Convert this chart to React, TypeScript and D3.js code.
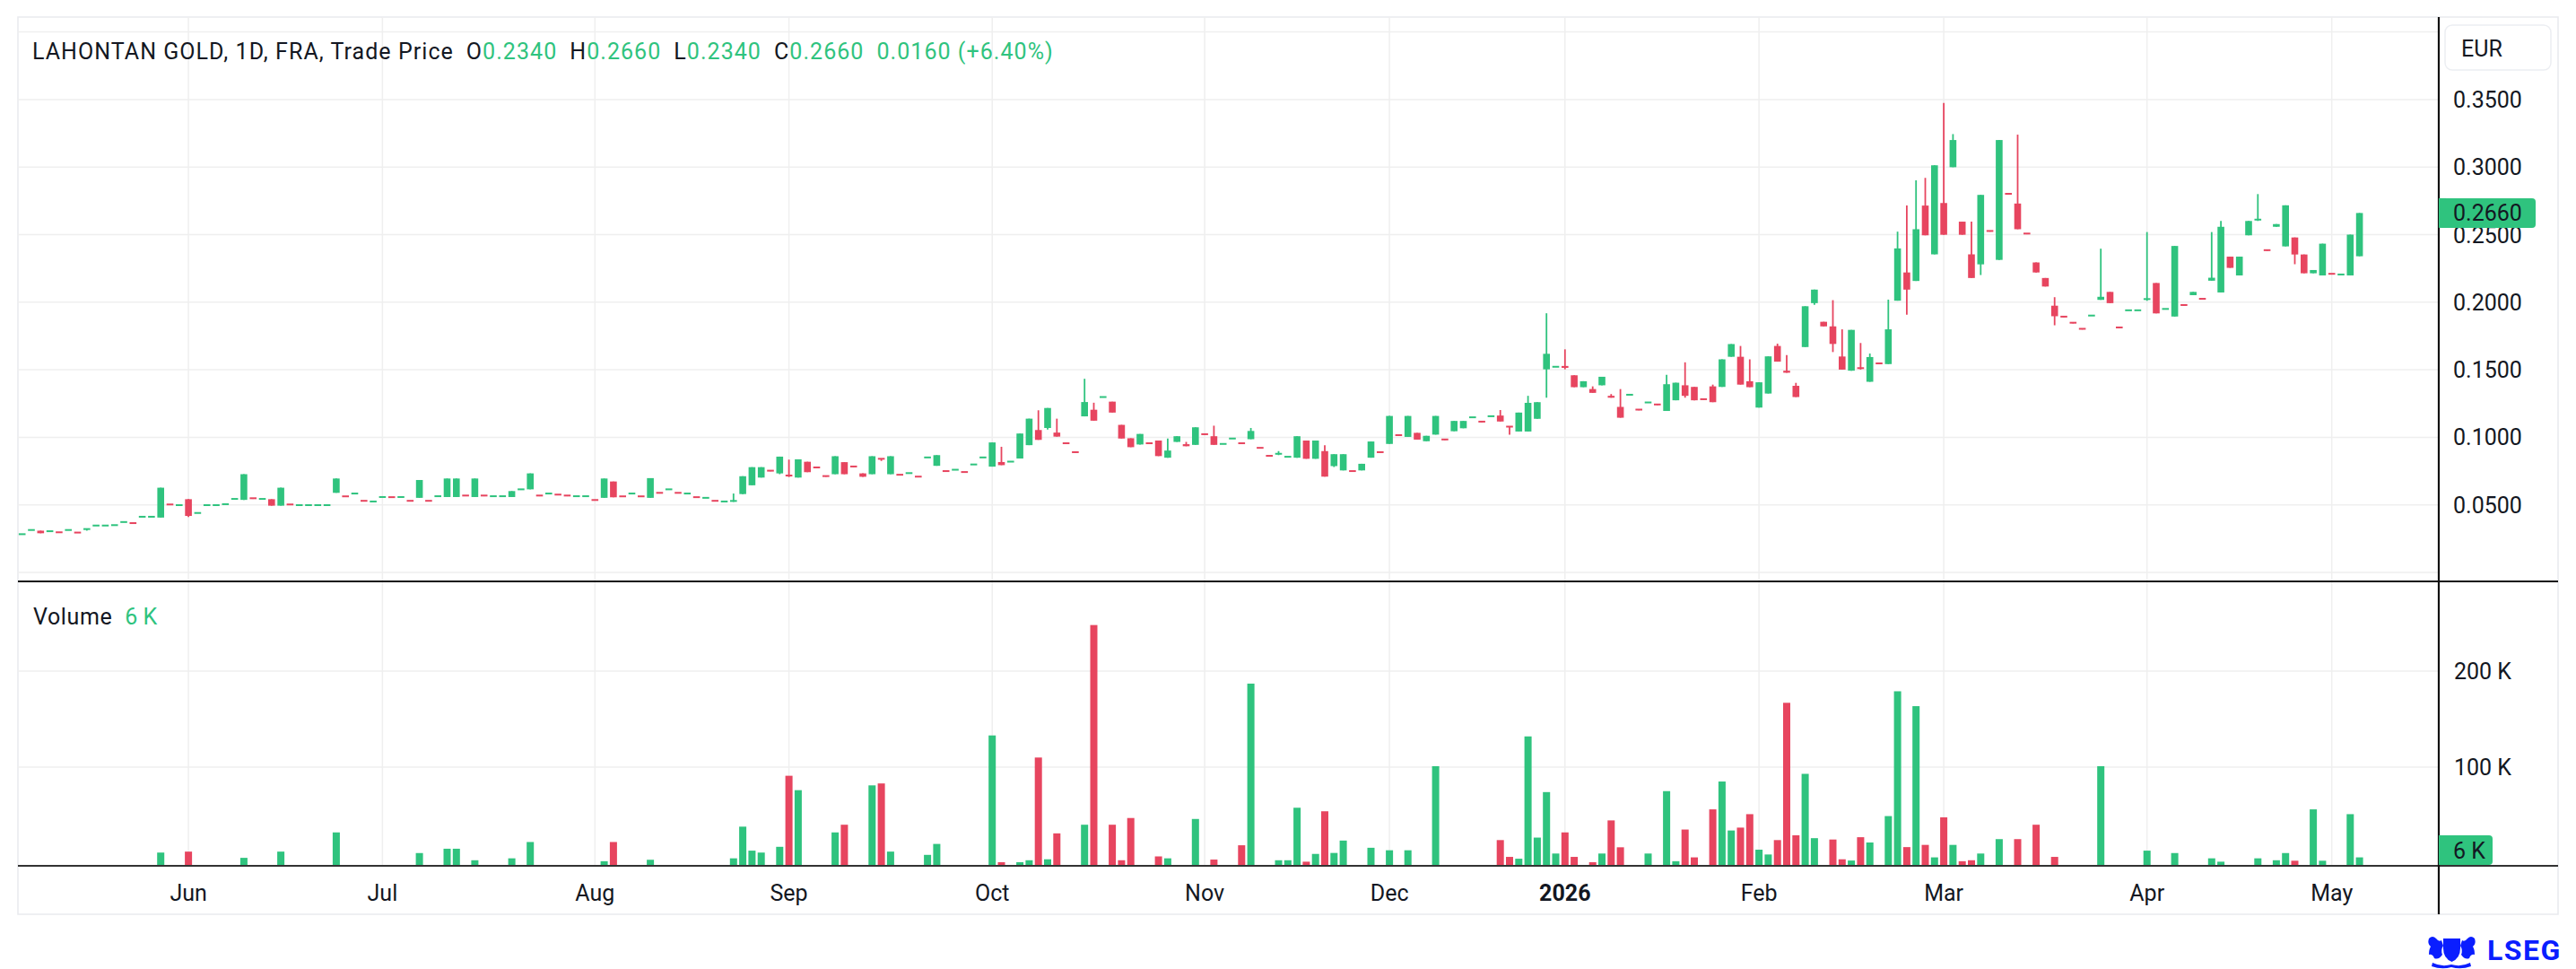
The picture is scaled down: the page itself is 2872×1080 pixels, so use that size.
import * as d3 from 'd3';
import React from 'react';

const W = 2872;
const H = 1080;
const UP = '#2fc37e';
const DOWN = '#e7455f';
const FONT = 'Roboto, "Noto Sans", sans-serif';
const TEXT = '#131722';
const GRID = '#efefef';

// one row per trading day: [open, close, high?, low?] (high/low default to the body)
const candles: number[][] = [
  [0.0283, 0.0283], [0.0314, 0.0314], [0.0309, 0.029], [0.0305, 0.0305], [0.0297, 0.0292], [0.0314, 0.0314],
  [0.0295, 0.029], [0.0309, 0.0321], [0.0347, 0.0347], [0.0347, 0.0347], [0.035, 0.035], [0.0373, 0.0373],
  [0.0365, 0.036], [0.0412, 0.0412], [0.0412, 0.0412], [0.0406, 0.0627], [0.0503, 0.0498], [0.0498, 0.0498],
  [0.0542, 0.0418, 0.0542, 0.041], [0.044, 0.044], [0.0498, 0.0498], [0.0498, 0.0498], [0.0505, 0.0505],
  [0.0544, 0.0544], [0.0537, 0.0727], [0.0549, 0.0544], [0.0544, 0.0544], [0.0542, 0.0494], [0.0494, 0.0627],
  [0.0503, 0.0498], [0.0498, 0.0498], [0.0498, 0.0498], [0.0498, 0.0498], [0.0498, 0.0498], [0.0589, 0.0695],
  [0.0563, 0.0558], [0.0584, 0.0584], [0.053, 0.0525], [0.0525, 0.0525], [0.0558, 0.0558], [0.0557, 0.0552],
  [0.0558, 0.0558], [0.053, 0.0525], [0.0552, 0.0684], [0.053, 0.0525], [0.0564, 0.0564], [0.0558, 0.0695],
  [0.0558, 0.0695], [0.0569, 0.0564], [0.0558, 0.0695], [0.0569, 0.0564], [0.0564, 0.0564], [0.0564, 0.0564],
  [0.0558, 0.0602], [0.0615, 0.0615], [0.0615, 0.0733], [0.0569, 0.0564], [0.0584, 0.0584], [0.0576, 0.0571],
  [0.0569, 0.0564], [0.0564, 0.0564], [0.0564, 0.0564], [0.0536, 0.0531], [0.0552, 0.0695], [0.0673, 0.0556],
  [0.0563, 0.0558], [0.0584, 0.0584], [0.0563, 0.0558], [0.0552, 0.0698], [0.0589, 0.0584], [0.0615, 0.0615],
  [0.0589, 0.0584], [0.0584, 0.0584], [0.0557, 0.0552], [0.0552, 0.0552], [0.053, 0.0525], [0.0525, 0.0525],
  [0.0522, 0.0529, 0.0584], [0.058, 0.0712], [0.0645, 0.0779], [0.0702, 0.0779], [0.0753, 0.0748],
  [0.0733, 0.0857, 0.0857, 0.0727], [0.0717, 0.0706, 0.0835], [0.0702, 0.0837], [0.0819, 0.0742],
  [0.0777, 0.0772], [0.0713, 0.0708], [0.0727, 0.086], [0.0816, 0.0727], [0.0784, 0.0779], [0.0733, 0.0708],
  [0.0727, 0.086], [0.0841, 0.0832, 0.0841, 0.0825], [0.0727, 0.086], [0.0723, 0.0718], [0.0735, 0.0735],
  [0.0709, 0.0704], [0.0851, 0.0851], [0.0789, 0.0868], [0.075, 0.0745], [0.076, 0.076], [0.0743, 0.0738],
  [0.0799, 0.0799], [0.0851, 0.0851], [0.0783, 0.0962], [0.0817, 0.0794, 0.093], [0.082, 0.082],
  [0.0843, 0.1028], [0.0942, 0.1138], [0.1054, 0.0981, 0.12], [0.1069, 0.1217, 0.1217, 0.1057],
  [0.1035, 0.1005, 0.1138], [0.0956, 0.0951], [0.089, 0.0885], [0.1155, 0.1261, 0.1433], [0.1204, 0.1123, 0.1256],
  [0.1298, 0.1298], [0.1264, 0.1183], [0.1092, 0.0991], [0.0993, 0.0927], [0.0947, 0.1025], [0.0956, 0.0951],
  [0.0976, 0.0861], [0.0849, 0.0902, 0.0991], [0.0966, 0.1008], [0.0949, 0.0934, 0.0966], [0.0944, 0.1074],
  [0.1023, 0.1018], [0.1008, 0.0944, 0.1086], [0.0951, 0.0951], [0.0991, 0.0991], [0.0956, 0.0951],
  [0.0986, 0.1047, 0.1069], [0.0922, 0.0917], [0.0863, 0.0858], [0.0868, 0.0878, 0.0898], [0.0856, 0.0856],
  [0.0849, 0.1008], [0.0976, 0.0841], [0.0841, 0.0976], [0.0898, 0.0709, 0.0942], [0.0787, 0.0875, 0.0875, 0.078],
  [0.0755, 0.0875], [0.075, 0.0745], [0.0755, 0.0804], [0.0849, 0.0969], [0.089, 0.0885], [0.0951, 0.1158],
  [0.1016, 0.1011], [0.1003, 0.1158], [0.1033, 0.0983], [0.0971, 0.1011], [0.102, 0.1158], [0.0984, 0.0979],
  [0.1045, 0.1121], [0.1067, 0.1121], [0.1148, 0.1148], [0.1116, 0.1111], [0.1156, 0.1156],
  [0.1161, 0.1117, 0.1202], [0.1079, 0.1068, 0.1079, 0.1019], [0.1043, 0.1183], [0.1043, 0.1255, 0.1307],
  [0.1137, 0.126], [0.1503, 0.1618, 0.1918, 0.1293], [0.1522, 0.1522], [0.1528, 0.1514, 0.1651, 0.1503],
  [0.1459, 0.1371], [0.1371, 0.1415], [0.1357, 0.1329, 0.1377], [0.1385, 0.1448], [0.1307, 0.1293, 0.132],
  [0.1225, 0.1145, 0.1357], [0.1315, 0.1315], [0.1205, 0.12], [0.1258, 0.1258], [0.1243, 0.1238],
  [0.1195, 0.1393, 0.1462], [0.1274, 0.1404], [0.1385, 0.1307, 0.1555, 0.1293], [0.1373, 0.1274],
  [0.1282, 0.1277], [0.1377, 0.126, 0.139], [0.1373, 0.1577], [0.1596, 0.169], [0.1596, 0.139, 0.1676],
  [0.1415, 0.1371, 0.1577], [0.122, 0.1407], [0.1324, 0.1599], [0.1676, 0.156, 0.1693], [0.1493, 0.1478, 0.1609],
  [0.1381, 0.1298, 0.1403], [0.1668, 0.197], [0.1993, 0.2093, 0.2093, 0.198], [0.1855, 0.1821],
  [0.1821, 0.1691, 0.2015, 0.1631], [0.1598, 0.1501, 0.1799], [0.1493, 0.1795], [0.1512, 0.1501, 0.1698],
  [0.1411, 0.1594, 0.162], [0.1547, 0.1542], [0.1542, 0.1799, 0.2019], [0.2011, 0.2398, 0.2522],
  [0.222, 0.2093, 0.2715, 0.1907], [0.2157, 0.254, 0.2902], [0.2715, 0.2495, 0.292], [0.2354, 0.3013],
  [0.2734, 0.2499, 0.3475], [0.2999, 0.32, 0.3244], [0.2596, 0.2499], [0.2354, 0.2179, 0.2596],
  [0.228, 0.2794, 0.2794, 0.2201], [0.2527, 0.2522], [0.2313, 0.32], [0.2802, 0.2797], [0.273, 0.254, 0.324],
  [0.2508, 0.2503], [0.2294, 0.222], [0.2179, 0.2116], [0.1974, 0.1896, 0.2037, 0.1829], [0.1893, 0.1888],
  [0.1848, 0.1843], [0.1803, 0.1798], [0.1901, 0.1901], [0.2017, 0.204, 0.2396], [0.2076, 0.1993],
  [0.1813, 0.1808], [0.194, 0.194], [0.194, 0.194], [0.201, 0.2023, 0.2519], [0.2142, 0.1917], [0.195, 0.195],
  [0.1894, 0.2416], [0.1979, 0.1974], [0.2052, 0.2076], [0.2025, 0.202], [0.2159, 0.2181, 0.2519],
  [0.2072, 0.2558, 0.2601], [0.2337, 0.2254], [0.2198, 0.2337], [0.2495, 0.2601], [0.2601, 0.2611, 0.28],
  [0.2385, 0.238], [0.2558, 0.2578], [0.2413, 0.2717], [0.2479, 0.2353, 0.2479, 0.2281], [0.2353, 0.2214],
  [0.2214, 0.2238], [0.2198, 0.2433], [0.221, 0.2205], [0.2205, 0.2205], [0.2198, 0.25], [0.234, 0.266],
];

// daily volume in thousands
const volumes: number[] = [
  0, 0, 0, 0, 0, 0, 0, 0, 0, 0,
  0, 0, 0, 0, 0, 11, 0, 0, 12, 0,
  0, 0, 0, 0, 5.5, 0, 0, 0, 12, 0,
  0, 0, 0, 0, 32, 0, 0, 0, 0, 0,
  0, 0, 0, 10.5, 0, 0, 15, 15, 0, 3,
  0, 0, 0, 5, 0, 22, 0, 0, 0, 0,
  0, 0, 0, 2, 22, 0, 0, 0, 3.5, 0,
  0, 0, 0, 0, 0, 0, 0, 5, 38, 13,
  11, 0, 17, 91, 76, 0, 0, 0, 32, 40,
  0, 0, 81, 83, 12, 0, 0, 0, 8.6, 20,
  0, 0, 0, 0, 0, 133, 1, 0, 1, 3,
  110, 4, 31, 0, 0, 40, 248, 0, 40, 3,
  47, 0, 0, 7, 5, 0, 0, 46, 0, 3.7,
  0, 0, 18.6, 187, 0, 0, 3, 3, 57.7, 1.5,
  9.6, 54, 10.6, 23.5, 0, 0, 16, 0, 13.4, 0,
  13.4, 0, 0, 101, 0, 0, 0, 0, 0, 0,
  24, 6.5, 4.6, 132, 26.6, 74, 10, 32, 6.5, 0,
  1, 10, 44.5, 16.5, 0, 0, 10, 0, 75, 2,
  35, 6, 0, 56, 85, 34, 37, 51, 14, 9,
  24, 167, 29, 93, 26, 0, 24.6, 4, 2.7, 27,
  21.5, 0, 49, 179, 16.7, 163.5, 19, 6, 47.7, 19,
  2, 3, 10, 0, 25, 0, 25, 0, 40, 0,
  6.5, 0, 0, 0, 0, 101, 0, 0, 0, 0,
  13, 0, 0, 10.5, 0, 0, 0, 5, 1.5, 0,
  0, 0, 5, 0, 3, 10.5, 2.5, 0, 56, 2.5,
  0, 0, 51, 6,
];

const monthLabels = ['Jun', 'Jul', 'Aug', 'Sep', 'Oct', 'Nov', 'Dec', '2026', 'Feb', 'Mar', 'Apr', 'May'];
const monthStarts = [18, 39, 62, 83, 105, 128, 148, 167, 188, 208, 230, 250];
const priceTicks = [0.05, 0.1, 0.15, 0.2, 0.25, 0.3, 0.35];
const priceGrid = [0, 0.05, 0.1, 0.15, 0.2, 0.25, 0.3, 0.35, 0.4];
const volumeTicks = [100, 200];

const header = { name: 'LAHONTAN GOLD, 1D, FRA, Trade Price', o: '0.2340', h: '0.2660', l: '0.2340', c: '0.2660', chg: '0.0160 (+6.40%)' };

export default function App() {
  const left = 20;
  const right = 2719;
  const x = d3.scaleLinear().domain([0, candles.length - 1]).range([24.7, 2630.6]);
  const y = d3.scaleLinear().domain([0, 0.4]).range([638, 35.6]);
  const yv = d3.scaleLinear().domain([0, 200]).range([962, 748]);
  const baseY = 964;
  const bodyW = 7.6;
  const volW = 8;

  const bars = candles.map(([o, c, h, l], i) => ({
    i,
    o,
    c,
    h: h ?? Math.max(o, c),
    l: l ?? Math.min(o, c),
    up: c >= o,
  }));
  const last = bars[bars.length - 1];

  return (
    <svg
      width={W}
      height={H}
      style={{ position: 'fixed', left: 0, top: 0, background: '#fff' }}
      fontFamily={FONT}
    >
      <rect x={0} y={0} width={W} height={H} fill="#fff" />
      <rect x={left} y={19} width={2852 - left} height={1000} fill="none" stroke="#e9eaee" strokeWidth={1.5} />

      {/* grid */}
      {priceGrid.map((p) => (
        <line key={'pg' + p} x1={left} x2={right} y1={y(p)} y2={y(p)} stroke={GRID} strokeWidth={1.5} />
      ))}
      {volumeTicks.map((v) => (
        <line key={'vg' + v} x1={left} x2={right} y1={yv(v)} y2={yv(v)} stroke={GRID} strokeWidth={1.5} />
      ))}
      {monthStarts.map((m) => (
        <line key={'mg' + m} x1={x(m)} x2={x(m)} y1={19} y2={baseY} stroke={GRID} strokeWidth={1.5} />
      ))}

      {/* candles */}
      {bars.map((b) => {
        const col = b.up ? UP : DOWN;
        const top = y(Math.max(b.o, b.c));
        const hgt = Math.max(2, Math.abs(y(b.o) - y(b.c)));
        return (
          <g key={'c' + b.i}>
            {b.h - b.l > 0.0005 && (
              <line x1={x(b.i)} x2={x(b.i)} y1={y(b.h)} y2={y(b.l)} stroke={col} strokeWidth={1.8} />
            )}
            <rect x={x(b.i) - bodyW / 2} y={top - (hgt === 2 ? 1 : 0)} width={bodyW} height={hgt} fill={col} />
          </g>
        );
      })}

      {/* volume */}
      {bars.map((b) =>
        volumes[b.i] > 0 ? (
          <rect
            key={'v' + b.i}
            x={x(b.i) - volW / 2}
            y={Math.min(yv(volumes[b.i]), baseY - 2)}
            width={volW}
            height={baseY - Math.min(yv(volumes[b.i]), baseY - 2)}
            fill={b.up ? UP : DOWN}
          />
        ) : null
      )}

      {/* pane separators and axes */}
      <line x1={left} x2={2852} y1={648} y2={648} stroke="#111" strokeWidth={2.2} />
      <line x1={left} x2={2852} y1={965} y2={965} stroke="#333" strokeWidth={2} />
      <line x1={right} x2={right} y1={19} y2={1019} stroke="#111" strokeWidth={2.2} />

      {/* header */}
      <text x={36} y={66} fontSize={25} fill={TEXT} letterSpacing={1.05}>
        <tspan>{header.name}</tspan>
        <tspan dx={14}>O</tspan>
        <tspan fill={UP}>{header.o}</tspan>
        <tspan dx={14}>H</tspan>
        <tspan fill={UP}>{header.h}</tspan>
        <tspan dx={14}>L</tspan>
        <tspan fill={UP}>{header.l}</tspan>
        <tspan dx={14}>C</tspan>
        <tspan fill={UP}>{header.c}</tspan>
        <tspan dx={14} fill={UP}>{header.chg}</tspan>
      </text>

      <text x={37} y={696} fontSize={25} fill={TEXT}>
        <tspan letterSpacing={0.6}>Volume</tspan>
        <tspan dx={14} fill={UP}>
          {volumes[volumes.length - 1]} K
        </tspan>
      </text>

      {/* price axis */}
      <rect x={2726} y={28} width={118} height={50} rx={8} fill="#fff" stroke="#eceef2" strokeWidth={1.5} />
      <text x={2744} y={63} fontSize={25} fill={TEXT}>EUR</text>
      {priceTicks.map((p) => (
        <text key={'pt' + p} x={2735} y={y(p) + 9} fontSize={25} fill={TEXT}>
          {p.toFixed(4)}
        </text>
      ))}
      <rect x={right} y={y(last.c) - 16.5} width={108} height={33} rx={4} fill={UP} />
      <rect x={right} y={y(last.c) - 16.5} width={8} height={33} fill={UP} />
      <text x={2735} y={y(last.c) + 9} fontSize={25} fill={TEXT}>
        {last.c.toFixed(4)}
      </text>

      {/* volume axis */}
      {volumeTicks.map((v) => (
        <text key={'vt' + v} x={2736} y={yv(v) + 9} fontSize={25} fill={TEXT}>
          {v} K
        </text>
      ))}
      <rect x={right} y={931} width={60} height={33} rx={4} fill={UP} />
      <rect x={right} y={931} width={8} height={33} fill={UP} />
      <text x={2735} y={957} fontSize={25} fill={TEXT}>
        {volumes[volumes.length - 1]} K
      </text>

      {/* time axis */}
      {monthLabels.map((m, k) => (
        <text
          key={'ml' + m}
          x={x(monthStarts[k])}
          y={1004}
          fontSize={25}
          textAnchor="middle"
          fill={TEXT}
          fontWeight={m === '2026' ? 700 : 400}
        >
          {m}
        </text>
      ))}

      {/* LSEG mark */}
      <g fill="#0a1eff">
        <path d="M2724,1046 h19 v11 q0,11 -9.5,15 q-9.5,-4 -9.5,-15 z" />
        <path d="M2708,1046 q4,-4 8,0 q3,4 6,2 l2,6 q-3,5 -1,10 q-4,6 -9,4 q-2,-5 -6,-4 q0,-6 2,-9 q-4,-3 -2,-9 z" />
        <path d="M2759,1046 q-4,-4 -8,0 q-3,4 -6,2 l-2,6 q3,5 1,10 q4,6 9,4 q2,-5 6,-4 q0,-6 -2,-9 q4,-3 2,-9 z" />
        <path d="M2712,1073 q10,5 21,2 q11,3 21,-2 l1,4 q-11,4 -22,1 q-11,3 -22,-1 z" />
      </g>
      <text x={2773} y={1070} fontSize={32} fontWeight={700} fill="#0a1eff" letterSpacing={1.5}>
        LSEG
      </text>
    </svg>
  );
}
